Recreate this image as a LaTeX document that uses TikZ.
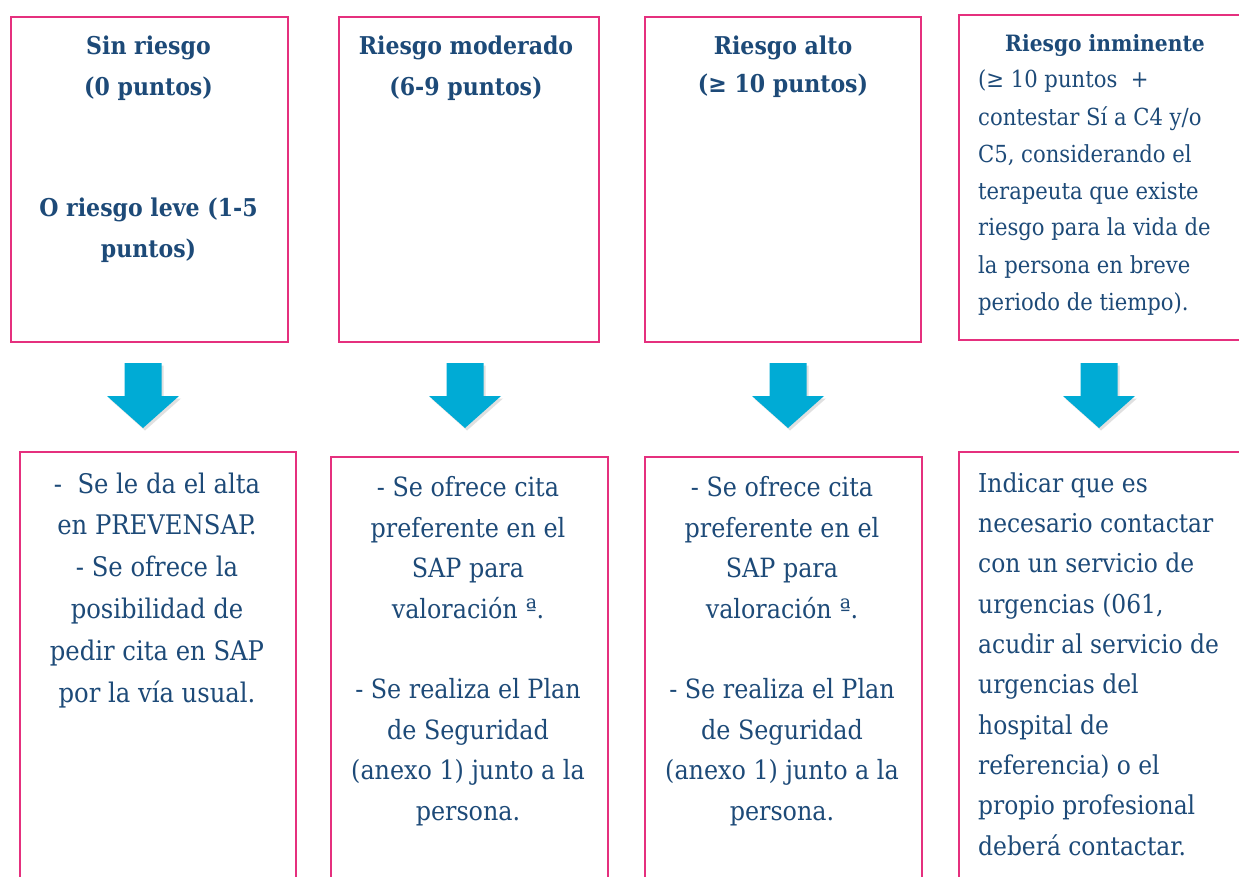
\documentclass[tikz,border=0pt]{standalone}
\usepackage{fontspec}
\setmainfont{DejaVu Serif Condensed}
\definecolor{boxpink}{HTML}{E5307E}
\definecolor{txtblue}{HTML}{1D4A78}
\definecolor{arrowc}{HTML}{00ABD5}
\begin{document}
\begin{tikzpicture}[x=1pt,y=-1pt,
  box/.style={draw=boxpink, line width=1.7pt, inner sep=0pt, anchor=north west},
  headtxt/.style={font=\fontsize{24.5}{41}\selectfont\bfseries, text=txtblue, align=center, inner sep=0pt, anchor=base},
  headtxtsmall/.style={font=\fontsize{22.5}{37}\selectfont\bfseries, text=txtblue, align=center, inner sep=0pt, anchor=base},
  desctxt/.style={font=\fontsize{23.5}{37}\selectfont, text=txtblue, align=left, inner sep=0pt, anchor=base west},
  bodytxt/.style={font=\fontsize{26.5}{40.4}\selectfont, text=txtblue, align=center, inner sep=0pt, anchor=base},
  bodyleft/.style={font=\fontsize{26}{40.3}\selectfont, text=txtblue, align=left, inner sep=0pt, anchor=base west},
  blockarrow/.pic={
    \fill[black!30, opacity=0.4] (-16.5,2.5) -- ++(37,0) -- ++(0,33) -- ++(17.5,0) -- ++(-36,32) -- ++(-36,-32) -- ++(17.5,0) -- cycle;
    \fill[arrowc] (-18.5,0) -- ++(37,0) -- ++(0,33) -- ++(17.5,0) -- ++(-36,32) -- ++(-36,-32) -- ++(17.5,0) -- cycle;
  }
]
\useasboundingbox (0,0) rectangle (1239,877);
\clip (0,0) rectangle (1239,877);
\fill[white] (0,0) rectangle (1239,877);

% top boxes
\node[box, minimum width=277, minimum height=325] (t1) at (10,16) {};
\node[box, minimum width=260, minimum height=325] (t2) at (338,16) {};
\node[box, minimum width=276, minimum height=325] (t3) at (644,16) {};
\node[box, minimum width=300, minimum height=325] (t4) at (958,14) {};

% top texts (anchor base = baseline of the last line)
\node[headtxt] (h1) at (148.5,96) {Sin riesgo\\(0 puntos)};
\node[headtxt] (h1b) at (148.5,258) {O riesgo leve (1-5\\puntos)};
\node[headtxt] (h2) at (466,96) {Riesgo moderado\\(6-9 puntos)};
\node[headtxt] (h3) at (783,55) {Riesgo alto};
\node[headtxt] (h3b) at (783,93) {(≥ 10 puntos)};
\node[headtxtsmall] (h4) at (1105,52) {Riesgo inminente};
\node[desctxt] (h4b) at (978,310) {(≥ 10 puntos\ \ +\\contestar Sí a C4 y/o\\C5, considerando el\\terapeuta que existe\\riesgo para la vida de\\la persona en breve\\periodo de tiempo).};

% arrows
\pic (ar1) at (143,363) {blockarrow};
\pic (ar2) at (465,363) {blockarrow};
\pic (ar3) at (788,363) {blockarrow};
\pic (ar4) at (1099,363) {blockarrow};

% bottom boxes
\node[box, minimum width=276, minimum height=440] (b1) at (19,451) {};
\node[box, minimum width=277, minimum height=440] (b2) at (330,456) {};
\node[box, minimum width=277, minimum height=440] (b3) at (644,456) {};
\node[box, minimum width=300, minimum height=440] (b4) at (958,451) {};

% bottom texts
\node[bodytxt, font=\fontsize{27}{41.8}\selectfont] (c1) at (157,702) {-\ \ Se le da el alta\\en PREVENSAP.\\- Se ofrece la\\posibilidad de\\pedir cita en SAP\\por la vía usual.};
\node[bodytxt] (c2) at (468,820) {- Se ofrece cita\\preferente en el\\SAP para\\valoración ª.\\[40.4pt]- Se realiza el Plan\\de Seguridad\\(anexo 1) junto a la\\persona.};
\node[bodytxt] (c3) at (782,820) {- Se ofrece cita\\preferente en el\\SAP para\\valoración ª.\\[40.4pt]- Se realiza el Plan\\de Seguridad\\(anexo 1) junto a la\\persona.};
\node[bodyleft] (c4) at (978,855) {Indicar que es\\necesario contactar\\con un servicio de\\urgencias (061,\\acudir al servicio de\\urgencias del\\hospital de\\referencia) o el\\propio profesional\\deberá contactar.};
\end{tikzpicture}
\end{document}
